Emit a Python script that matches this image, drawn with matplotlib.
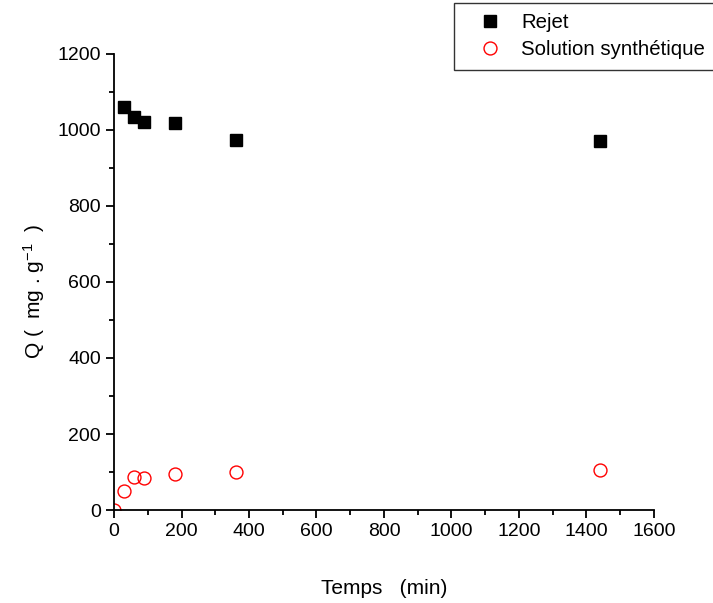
import matplotlib
matplotlib.use("Agg")
from matplotlib import pyplot as plt
from matplotlib.ticker import MultipleLocator

plt.rcParams['font.family'] = ['Liberation Sans', 'DejaVu Sans']
plt.rcParams['mathtext.default'] = 'regular'

# temps (min)
temps_rejet = [30, 60, 90, 180, 360, 1440]
q_rejet = [1060, 1033, 1020, 1019, 974, 971]

temps_synth = [0, 30, 60, 90, 180, 360, 1440]
q_synth = [0, 51, 87, 85, 96, 100, 106]

fig = plt.figure(figsize=(7.13, 6.03), dpi=100)
ax = fig.add_axes([0.16, 0.154, 0.757, 0.757])

ax.plot(temps_rejet, q_rejet, linestyle='none', marker='s', markersize=8,
        color='black', label='Rejet', clip_on=False)
ax.plot(temps_synth, q_synth, linestyle='none', marker='o', markersize=9.3,
        markerfacecolor='none', markeredgecolor='red', markeredgewidth=1,
        label='Solution synthétique')

ax.set_xlim(0, 1600)
ax.set_ylim(0, 1200)
ax.xaxis.set_major_locator(MultipleLocator(200))
ax.xaxis.set_minor_locator(MultipleLocator(100))
ax.yaxis.set_major_locator(MultipleLocator(200))
ax.yaxis.set_minor_locator(MultipleLocator(100))

for side in ['top', 'right']:
    ax.spines[side].set_visible(False)
for side in ['left', 'bottom']:
    ax.spines[side].set_linewidth(1.3)

ax.tick_params(which='major', direction='out', length=6, width=1.3, labelsize=14)
ax.tick_params(which='minor', direction='out', length=3.5, width=1.3)

ax.set_xlabel('Temps   (min)', fontsize=15, labelpad=28)
ax.set_ylabel('Q (  mg . g$^{-1}$  )', fontsize=15)
ax.yaxis.set_label_coords(-0.125, 0.48)

leg = fig.legend(loc='upper left', bbox_to_anchor=(454 / 713, 1 - 3 / 603),
                 fontsize=14.7, frameon=True, fancybox=False, edgecolor='black',
                 handletextpad=0.3, borderpad=0.5, labelspacing=0.4,
                 handlelength=2.5, borderaxespad=0)
leg.get_frame().set_linewidth(1.0)

fig.savefig('out.png', dpi=100)
